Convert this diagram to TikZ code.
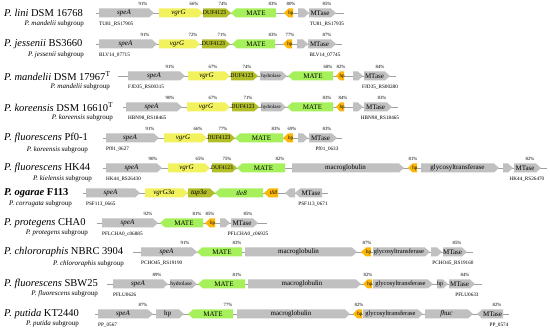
\documentclass[tikz,border=0pt]{standalone}
\usepackage{fontspec}
\setmainfont{Liberation Serif}
\newcounter{gc}
\newcommand{\fsz}[1]{\fontsize{#1}{#1}\selectfont}
\definecolor{gG}{RGB}{192,192,192}
\definecolor{gY}{RGB}{242,242,95}
\definecolor{gO}{RGB}{178,190,40}
\definecolor{gM}{RGB}{166,240,92}
\definecolor{gH}{RGB}{252,182,8}
\definecolor{bbc}{RGB}{160,160,160}
\tikzset{
  bb/.style={draw=bbc, line width=0.6pt},
  gl/.style={inner sep=0pt, font=\fsz{7}},
  pct/.style={inner sep=0pt, font=\fsz{4.8}},
  loc/.style={inner sep=0pt, font=\fsz{5.2}},
  ttl/.style={anchor=west, inner sep=0pt, font=\fsz{10.5}},
  sub/.style={anchor=east, inner sep=0pt, font=\fsz{7}},
}
% right-pointing gene
\newcommand{\gR}[5]{%
  \pgfmathsetmacro{\tp}{min(5,0.5*(#2-#1))}%
  \fill[#4] (#1,#3-4.5) -- ({#2-\tp},#3-4.5) -- (#2,#3) -- ({#2-\tp},#3+4.5) -- (#1,#3+4.5) -- cycle;
  \stepcounter{gc}\node[gl] (g\arabic{gc}) at ({(#1+#2-\tp)/2},#3) {#5};}
% left-pointing gene
\newcommand{\gL}[5]{%
  \pgfmathsetmacro{\tp}{min(5,0.5*(#2-#1))}%
  \fill[#4] (#2,#3-4.5) -- ({#1+\tp},#3-4.5) -- (#1,#3) -- ({#1+\tp},#3+4.5) -- (#2,#3+4.5) -- cycle;
  \stepcounter{gc}\node[gl] (g\arabic{gc}) at ({(#1+#2+\tp)/2},#3) {#5};}
\newcommand{\pc}[3]{\stepcounter{gc}\node[pct] (p\arabic{gc}) at (#1,#2-9.5) {#3\%};}
\newcommand{\lw}[3]{\stepcounter{gc}\node[loc,anchor=west] (l\arabic{gc}) at (#1,#2+11) {#3};}
\newcommand{\lc}[3]{\stepcounter{gc}\node[loc] (l\arabic{gc}) at (#1,#2+11) {#3};}
\newcommand{\bbl}[3]{\stepcounter{gc}\coordinate (a\arabic{gc}) at (#1,#3);\coordinate (b\arabic{gc}) at (#2,#3);\draw[bb] (a\arabic{gc}) -- (b\arabic{gc});}
\newcommand{\duf}{\fsz{5.8}DUF4123}
\newcommand{\glyc}{\fsz{6.5}glycosyltransferase}
\begin{document}
\begin{tikzpicture}[x=1pt,y=-1pt]
\useasboundingbox (0,0) rectangle (550,331);
\fill[white] (0,0) rectangle (550,331);

% Row 1
\node[ttl] (t1) at (4,13) {\textit{P. lini} DSM 16768};
\node[sub] (s1) at (84,24) {\textit{P. mandelii} subgroup};
\bbl{96}{344}{13}
\gR{99}{154}{13}{gG}{\textit{speA}}\pc{143}{13}{91}
\gR{159}{203}{13}{gY}{\textit{vgrG}}\pc{194}{13}{66}
\gR{203}{231}{13}{gO}{\duf}\pc{223}{13}{74}
\gL{231}{276}{13}{gM}{MATE}\pc{273}{13}{83}
\gL{284}{293}{13}{gH}{\fsz{5}hp}\pc{291}{13}{80}
\gR{298}{309}{13}{gG}{}
\gR{309}{336}{13}{gG}{MTase}\pc{327}{13}{85}
\lw{99}{13}{TU81\_RS17905}\lc{327}{13}{TU81\_RS17935}

% Row 2
\node[ttl] (t2) at (4,44) {\textit{P. jessenii} BS3660};
\node[sub] (s2) at (84,55) {\textit{P. jessenii} subgroup};
\bbl{96}{342}{44}
\gR{99}{157}{44}{gG}{\textit{speA}}\pc{145}{44}{91}
\gR{159}{200}{44}{gY}{\textit{vgrG}}\pc{193}{44}{72}
\gR{202}{230}{44}{gO}{\duf}\pc{222}{44}{71}
\gL{232}{275}{44}{gM}{MATE}\pc{273}{44}{83}
\gL{283}{292}{44}{gH}{\fsz{5}hp}\pc{290}{44}{77}
\gR{297}{308}{44}{gG}{}
\gR{308}{336}{44}{gG}{MTase}\pc{327}{44}{87}
\lw{99}{44}{BLV14\_07715}\lc{325}{44}{BLV14\_07745}

% Row 3
\node[ttl] (t3) at (4,76) {\textit{P. mandelii} DSM 17967\textsuperscript{T}};
\node[sub] (s3) at (110,87) {\textit{P. mandelii} subgroup};
\bbl{118}{396}{76}
\gR{128}{185}{76}{gG}{\textit{speA}}\pc{170}{76}{91}
\gR{188}{230}{76}{gY}{\textit{vgrG}}\pc{213}{76}{67}
\gR{231}{258}{76}{gO}{\duf}\pc{247}{76}{74}
\gR{260}{287}{76}{gG}{\fsz{5}hydrolase}
\gL{288}{333}{76}{gM}{MATE}\pc{328}{76}{68}
\gL{336}{344}{76}{gH}{\fsz{5}hp}\pc{341}{76}{82}
\gR{353}{363}{76}{gG}{}
\gR{364}{390}{76}{gG}{MTase}\pc{380}{76}{84}
\lw{128}{76}{FJD35\_RS00315}\lc{380}{76}{FJD35\_RS00280}

% Row 4
\node[ttl] (t4) at (4,107) {\textit{P. koreensis} DSM 16610\textsuperscript{T}};
\node[sub] (s4) at (113,118) {\textit{P. koreensis} subgroup};
\bbl{123}{398}{107}
\gR{126}{182}{107}{gG}{\textit{speA}}\pc{170}{107}{90}
\gR{187}{230}{107}{gY}{\textit{vgrG}}\pc{213}{107}{67}
\gR{232}{259}{107}{gO}{\duf}\pc{248}{107}{71}
\gR{261}{286}{107}{gG}{\fsz{5}hydrolase}
\gL{287}{333}{107}{gM}{MATE}\pc{327}{107}{83}
\gL{336}{344}{107}{gH}{\fsz{5}hp}\pc{343}{107}{84}
\gR{353}{363}{107}{gG}{}
\gR{364}{392}{107}{gG}{MTase}\pc{382}{107}{83}
\lw{128}{107}{HBN98\_RS18465}\lc{380}{107}{HBN98\_RS18465}

% Row 5
\node[ttl] (t5) at (4,138) {\textit{P. fluorescens} Pf0-1};
\node[sub] (s5) at (88,150) {\textit{P. koreensis} subgroup};
\bbl{103}{342}{138}
\gR{106}{159}{138}{gG}{\textit{speA}}\pc{150}{138}{91}
\gR{164}{207}{138}{gY}{\textit{vgrG}}\pc{198}{138}{66}
\gR{208}{235}{138}{gO}{\duf}\pc{223}{138}{77}
\gL{235}{283}{138}{gM}{MATE}\pc{276}{138}{83}
\gL{283}{293}{138}{gH}{\fsz{5}hp}\pc{292}{138}{69}
\gR{298}{308}{138}{gG}{}
\gR{309}{337}{138}{gG}{MTase}\pc{327}{138}{83}
\lw{106}{138}{Pf01\_0627}\lc{327}{138}{Pf01\_0633}

% Row 6
\node[ttl] (t6) at (4,168) {\textit{P. fluorescens} HK44};
\node[sub] (s6) at (92,179) {\textit{P. kielensis} subgroup};
\bbl{103}{547}{168}
\gR{106}{162}{168}{gG}{\textit{speA}}\pc{153}{168}{90}
\gR{168}{210}{168}{gY}{\textit{vgrG}}\pc{200}{168}{65}
\gR{212}{237}{168}{gO}{\fsz{5.4}DUF4123}\pc{227}{168}{75}
\gL{237}{285}{168}{gM}{MATE}\pc{280}{168}{82}
\gR{292}{404}{168}{gG}{macroglobulin}
\gL{408}{417}{168}{gH}{\fsz{5}hp}\pc{413}{168}{81}
\gR{421}{499}{168}{gG}{glycosyltransferase}
\gR{503}{513}{168}{gG}{}
\gR{514}{541}{168}{gG}{MTase}\pc{530}{168}{82}
\lw{106}{168}{HK44\_RS26430}\lc{527}{168}{HK44\_RS26470}

% Row 7
\node[ttl] (t7) at (4,193) {\textbf{\textit{P. ogarae} F113}};
\node[sub] (s7) at (72,204) {\textit{P. corrugata} subgroup};
\bbl{83}{328}{193}
\gR{86}{140}{193}{gG}{\textit{speA}}
\gR{145}{188}{193}{gY}{\textit{vgrG3a}}
\gR{188}{215}{193}{gO}{\textit{tap3a}}
\gL{215}{263}{193}{gM}{\textit{tle8}}
\gL{264}{278}{193}{gH}{\fsz{5.5}\textit{tli8}}
\gL{285}{295}{193}{gG}{}
\gL{295}{322}{193}{gG}{MTase}
\lw{86}{193}{PSF113\_0665}\lc{313}{193}{PSF113\_0671}

% Row 8
\node[ttl] (t8) at (4,223) {\textit{P. protegens} CHA0};
\node[sub] (s8) at (88,233) {\textit{P. protegens} subgroup};
\bbl{97}{267}{223}
\gR{102}{158}{223}{gG}{\textit{speA}}\pc{148}{223}{92}
\gL{160}{203}{223}{gM}{MATE}\pc{197}{223}{81}
\gL{205}{215}{223}{gH}{\fsz{5}hp}\pc{210}{223}{85}
\gR{220}{230}{223}{gG}{}
\gR{231}{258}{223}{gG}{MTase}\pc{248}{223}{85}
\lw{102}{223}{PFLCHA0\_c06885}\lc{248}{223}{PFLCHA0\_c06925}

% Row 9
\node[ttl] (t9) at (4,252) {\textit{P. chlororaphis} NBRC 3904};
\node[sub] (s9) at (124,264) {\textit{P. chlororaphis} subgroup};
\bbl{133}{473}{252}
\gR{141}{197}{252}{gG}{\textit{speA}}\pc{185}{252}{91}
\gL{197}{242}{252}{gM}{MATE}\pc{237}{252}{83}
\gR{245}{357}{252}{gG}{macroglobulin}
\gL{361}{371}{252}{gH}{\fsz{5}hp}\pc{367}{252}{87}
\gR{373}{430}{252}{gG}{\glyc}
\gR{431}{442}{252}{gG}{}
\gR{443}{467}{252}{gG}{MTase}\pc{457}{252}{85}
\lw{141}{252}{PCHO45\_RS19190}\lc{453}{252}{PCHO45\_RS19160}

% Row 10
\node[ttl] (t10) at (4,284) {\textit{P. fluorescens} SBW25};
\node[sub] (s10) at (98,294) {\textit{P. fluorescens} subgroup};
\bbl{107}{482}{284}
\gR{113}{168}{284}{gG}{\textit{speA}}\pc{157}{284}{89}
\gR{170}{197}{284}{gG}{\fsz{5.5}hydrolase}
\gL{198}{245}{284}{gM}{MATE}\pc{237}{284}{81}
\gR{248}{361}{284}{gG}{macroglobulin}
\gL{363}{372}{284}{gH}{\fsz{5}hp}\pc{368}{284}{82}
\gR{373}{433}{284}{gG}{\glyc}
\gR{437}{448}{284}{gG}{\fsz{6}hp}
\gR{449}{475}{284}{gG}{MTase}\pc{465}{284}{84}
\lw{113}{284}{PFLU0626}\lc{467}{284}{PFLU0633}

% Row 11
\node[ttl] (t11) at (4,314) {\textit{P. putida} KT2440};
\node[sub] (s11) at (79,324) {\textit{P. putida} subgroup};
\bbl{95}{509}{314}
\gR{98}{153}{314}{gG}{\textit{speA}}\pc{143}{314}{87}
\gR{156}{184}{314}{gG}{hp}
\gL{188}{233}{314}{gM}{MATE}\pc{228}{314}{77}
\gR{237}{350}{314}{gG}{macroglobulin}
\gL{353}{362}{314}{gH}{\fsz{5}hp}\pc{359}{314}{82}
\gR{363}{423}{314}{gG}{\glyc}
\gR{425}{473}{314}{gG}{\textit{fhuc}}
\gL{477}{503}{314}{gG}{MTase}\pc{497}{314}{82}
\lw{98}{314}{PP\_0567}\lc{499}{314}{PP\_0574}
\end{tikzpicture}
\end{document}
